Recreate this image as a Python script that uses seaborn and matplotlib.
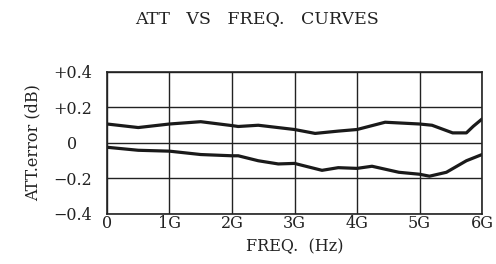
import pandas as pd
import matplotlib.pyplot as plt
import seaborn as sns

# frequency points (GHz)
freq_upper = [0, 0.5, 1.0, 1.5, 2.0, 2.1, 2.42, 3.0, 3.33, 3.7, 4.0, 4.45, 5.0, 5.2, 5.53, 5.75, 5.86, 6.0]
err_upper = [0.107, 0.087, 0.107, 0.12, 0.098, 0.093, 0.10, 0.076, 0.054, 0.067, 0.076, 0.117, 0.107, 0.10, 0.057, 0.057, 0.094, 0.135]

freq_lower = [0, 0.5, 1.0, 1.5, 2.0, 2.1, 2.42, 2.74, 3.0, 3.44, 3.7, 4.0, 4.24, 4.67, 5.0, 5.16, 5.43, 5.75, 6.0]
err_lower = [-0.024, -0.041, -0.046, -0.065, -0.072, -0.072, -0.10, -0.118, -0.115, -0.154, -0.139, -0.143, -0.131, -0.165, -0.176, -0.187, -0.165, -0.10, -0.065]

x_ticks = [0, 1, 2, 3, 4, 5, 6]
x_labels = ['0', '1G', '2G', '3G', '4G', '5G', '6G']
y_ticks = [-0.4, -0.2, 0, 0.2, 0.4]
y_labels = ['\u22120.4', '\u22120.2', '0', '+0.2', '+0.4']

data = pd.concat([
    pd.DataFrame({'freq': freq_upper, 'err': err_upper, 'curve': 'upper'}),
    pd.DataFrame({'freq': freq_lower, 'err': err_lower, 'curve': 'lower'}),
])

sns.set_style('white')
plt.rcParams['font.family'] = ['DejaVu Serif']

fig = plt.figure(figsize=(4.96, 2.64), dpi=100)
ax = fig.add_axes([0.2157, 0.1894, 0.7561, 0.5379])

sns.lineplot(data=data, x='freq', y='err', units='curve', estimator=None,
             color='#1a1a1a', linewidth=2.3, legend=False, ax=ax)

ax.set_xlim(0, 6)
ax.set_ylim(-0.4, 0.4)
ax.set_xticks(x_ticks)
ax.set_xticklabels(x_labels, fontsize=11.5)
ax.set_yticks(y_ticks)
ax.set_yticklabels(y_labels, fontsize=11.5, ha='center')
ax.tick_params(axis='both', length=0, colors='#222222')
ax.tick_params(axis='y', pad=25)
ax.tick_params(axis='x', pad=1)
ax.grid(True, color='#222222', linewidth=1.0)
for s in ax.spines.values():
    s.set_color('#222222')
    s.set_linewidth(1.2)

ax.set_xlabel('FREQ.  (Hz)', fontsize=11.5, labelpad=4, color='#222222')
ax.set_ylabel('ATT.error (dB)', fontsize=11.5, labelpad=8, color='#222222')

fig.text(0.518, 0.93, 'ATT   VS   FREQ.   CURVES', fontsize=12.5, ha='center', va='center', color='#222222')

fig.savefig('out.png', dpi=100, facecolor='white')
